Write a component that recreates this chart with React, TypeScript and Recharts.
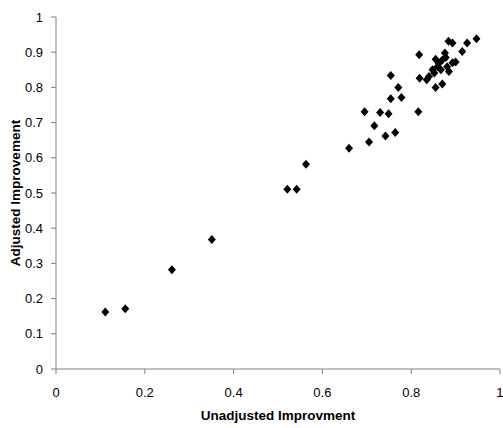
import { ScatterChart, Scatter, XAxis, YAxis } from 'recharts';

const unadjusted = [
  0.111, 0.156, 0.261, 0.351, 0.521, 0.542, 0.563, 0.66, 0.705, 0.717, 0.742,
  0.764, 0.695, 0.73, 0.749, 0.754, 0.778, 0.771, 0.754, 0.816, 0.818, 0.819,
  0.84, 0.852, 0.855, 0.87, 0.867, 0.848, 0.859, 0.881, 0.893, 0.855, 0.87,
  0.876, 0.884, 0.893, 0.915, 0.926, 0.947, 0.835, 0.885, 0.862, 0.878, 0.9,
];

const adjusted = [
  0.162, 0.171, 0.282, 0.368, 0.511, 0.511, 0.582, 0.627, 0.645, 0.691, 0.662,
  0.672, 0.731, 0.729, 0.725, 0.768, 0.771, 0.8, 0.834, 0.731, 0.893, 0.826,
  0.831, 0.841, 0.8, 0.81, 0.85, 0.85, 0.859, 0.859, 0.87, 0.88, 0.878, 0.898,
  0.931, 0.926, 0.902, 0.926, 0.938, 0.822, 0.845, 0.868, 0.885, 0.872,
];

const xTicks = [0, 0.2, 0.4, 0.6, 0.8, 1];
const yTicks = [0, 0.1, 0.2, 0.3, 0.4, 0.5, 0.6, 0.7, 0.8, 0.9, 1];

const points = unadjusted.map((x, i) => ({ x, y: adjusted[i] }));

function Diamond(props: { cx?: number; cy?: number }) {
  const { cx, cy } = props;
  if (cx == null || cy == null) return null;
  return (
    <polygon
      points={`${cx},${cy - 4.5} ${cx + 4},${cy} ${cx},${cy + 4.5} ${cx - 4},${cy}`}
      fill="#000"
    />
  );
}

const tickStyle = { fill: '#000', fontSize: 13, fontFamily: 'Liberation Sans, Arial, sans-serif' };
const labelStyle = {
  fill: '#000',
  fontSize: 13.5,
  fontWeight: 700,
  fontFamily: 'Liberation Sans, Arial, sans-serif',
};

export default function App() {
  return (
    <div style={{ position: 'absolute', left: 0, top: 0, background: '#fff' }}>
      <ScatterChart
        width={503}
        height={428}
        margin={{ top: 17, right: 3, left: 0, bottom: 0 }}
      >
        <XAxis
          type="number"
          dataKey="x"
          domain={[0, 1]}
          ticks={xTicks}
          tickFormatter={(v: number) => String(v)}
          tick={tickStyle}
          tickSize={5}
          tickMargin={14}
          axisLine={{ stroke: '#808080' }}
          tickLine={{ stroke: '#808080' }}
          height={59}
          label={{ value: 'Unadjusted Improvment', position: 'insideBottom', offset: 8, style: labelStyle }}
        />
        <YAxis
          type="number"
          dataKey="y"
          domain={[0, 1]}
          ticks={yTicks}
          tickFormatter={(v: number) => String(v)}
          tick={tickStyle}
          tickSize={5}
          tickMargin={8}
          axisLine={{ stroke: '#808080' }}
          tickLine={{ stroke: '#808080' }}
          width={56}
          label={{
            value: 'Adjusted Improvement',
            angle: -90,
            position: 'insideLeft',
            offset: 15,
            style: { ...labelStyle, textAnchor: 'middle' },
          }}
        />
        <Scatter data={points} shape={<Diamond />} isAnimationActive={false} />
      </ScatterChart>
    </div>
  );
}
